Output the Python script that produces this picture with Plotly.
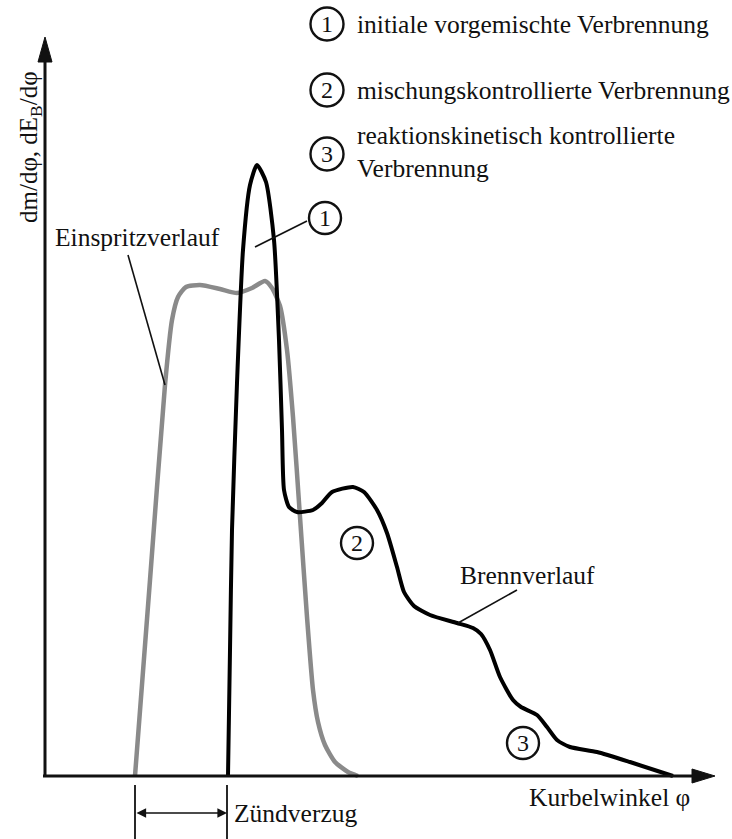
import plotly.graph_objects as go

# schematic units: origin at the axis crossing, one unit ~ one pixel
inj_x = [90, 105, 120, 127, 133, 141, 155, 175, 192, 207, 220, 227, 235, 242, 248, 255,
         262, 268, 273, 280, 290, 303, 313]
inj_y = [0, 196, 391, 456, 479, 489, 491, 487, 483, 488, 495, 488, 470, 426, 359, 259,
         159, 86, 54, 31, 14, 4, 0]

burn_x = [183, 185, 187, 192, 198, 205, 212, 221, 229, 234, 237, 239, 244, 252, 268, 277,
          287, 308, 319, 332, 342, 352, 359, 369, 385, 412, 428, 436, 445, 455, 468, 476,
          492, 502, 512, 525, 552, 585, 628]
burn_y = [0, 126, 246, 393, 526, 591, 611, 594, 536, 436, 346, 286, 269, 264, 266, 273,
          284, 289, 284, 266, 243, 209, 184, 170, 161, 153, 148, 142, 126, 99, 76, 69,
          61, 49, 36, 29, 24, 14, 0]

legend_labels = ["initiale vorgemischte Verbrennung",
                 "mischungskontrollierte Verbrennung",
                 "reaktionskinetisch kontrollierte<br>Verbrennung"]
legend_y = [752, 686, 624]

phase_marks = [("1", 280, 558), ("2", 312, 233), ("3", 478, 33)]

x_label = "Kurbelwinkel φ"
y_label = "dm/dφ, dE<sub>B</sub>/dφ"

SERIF = "Liberation Serif, Times New Roman, serif"
INK = "#111111"

fig = go.Figure()
fig.add_trace(go.Scatter(x=inj_x, y=inj_y, mode="lines",
                         line=dict(color="#8a8a8a", width=4.5, shape="spline", smoothing=0.6),
                         hoverinfo="skip"))
fig.add_trace(go.Scatter(x=burn_x, y=burn_y, mode="lines",
                         line=dict(color="#000000", width=4, shape="spline", smoothing=0.6),
                         hoverinfo="skip"))

shapes = []
# axes with arrow heads
shapes.append(dict(type="line", x0=0, y0=0, x1=0, y1=718, line=dict(color=INK, width=3)))
shapes.append(dict(type="path", path="M -7 714 L 0 739 L 7 714 Z", fillcolor=INK,
                   line=dict(color=INK, width=1)))
shapes.append(dict(type="line", x0=-2, y0=0, x1=650, y1=0, line=dict(color=INK, width=3)))
shapes.append(dict(type="path", path="M 647 7 L 670 0 L 647 -7 Z", fillcolor=INK,
                   line=dict(color=INK, width=1)))

# Zündverzug bracket
for bx in (90, 182):
    shapes.append(dict(type="line", x0=bx, y0=-9, x1=bx, y1=-70, line=dict(color=INK, width=1.8)))

# circles: legend + in-plot markers
def circle(cx, cy, r=16):
    return dict(type="circle", x0=cx - r, x1=cx + r, y0=cy - r, y1=cy + r,
                line=dict(color=INK, width=2.4))

for ly in legend_y:
    shapes.append(circle(282, ly - (2 if ly == 624 else 0), 16.5))
for _, cx, cy in phase_marks:
    shapes.append(circle(cx, cy))

# leader lines
shapes.append(dict(type="line", x0=262, y0=555, x1=210, y1=529, line=dict(color=INK, width=1.6)))
shapes.append(dict(type="line", x0=472, y0=186, x1=413, y1=153, line=dict(color=INK, width=1.6)))
shapes.append(dict(type="line", x0=83, y0=521, x1=120, y1=391, line=dict(color=INK, width=1.6)))

ann = []
for i, (lab, ly) in enumerate(zip(legend_labels, legend_y)):
    ann.append(dict(x=282, y=ly - (2 if i == 2 else 0), text=str(i + 1), showarrow=False,
                    font=dict(size=24, family=SERIF, color=INK)))
    ann.append(dict(x=310, y=ly, text=lab, showarrow=False, xanchor="left", align="left",
                    font=dict(size=25.5, family=SERIF, color=INK)))
for num, cx, cy in phase_marks:
    ann.append(dict(x=cx, y=cy, text=num, showarrow=False,
                    font=dict(size=24, family=SERIF, color=INK)))

ann.append(dict(x=8, y=539, text="Einspritzverlauf", showarrow=False, xanchor="left",
                font=dict(size=25.5, family=SERIF, color=INK)))
ann.append(dict(x=482, y=201, text="Brennverlauf", showarrow=False,
                font=dict(size=25.5, family=SERIF, color=INK)))
ann.append(dict(x=564, y=-21, text=x_label, showarrow=False,
                font=dict(size=25.5, family=SERIF, color=INK)))
ann.append(dict(x=187, y=-37, text="Zündverzug", showarrow=False, xanchor="left",
                font=dict(size=25.5, family=SERIF, color=INK)))
ann.append(dict(x=-15, y=629, text=y_label, showarrow=False, textangle=-90,
                font=dict(size=25, family=SERIF, color=INK)))
# double arrow of the ignition delay
ann.append(dict(x=182, y=-37, ax=90, ay=-37, xref="x", yref="y", axref="x", ayref="y",
                text="", showarrow=True, arrowside="end+start", arrowhead=2,
                arrowsize=1.2, arrowwidth=1.6, arrowcolor=INK))

fig.update_layout(
    width=732, height=839,
    margin=dict(l=0, r=0, t=0, b=0),
    paper_bgcolor="white", plot_bgcolor="white",
    showlegend=False,
    shapes=shapes, annotations=ann,
    xaxis=dict(range=[-45, 687], visible=False, fixedrange=True),
    yaxis=dict(range=[-63, 776], visible=False, fixedrange=True),
)

# drop the default page margin so the figure sits at the window's corner
fig.write_html("out.html", config={"displayModeBar": False},
               post_script="document.body.style.margin='0';")
